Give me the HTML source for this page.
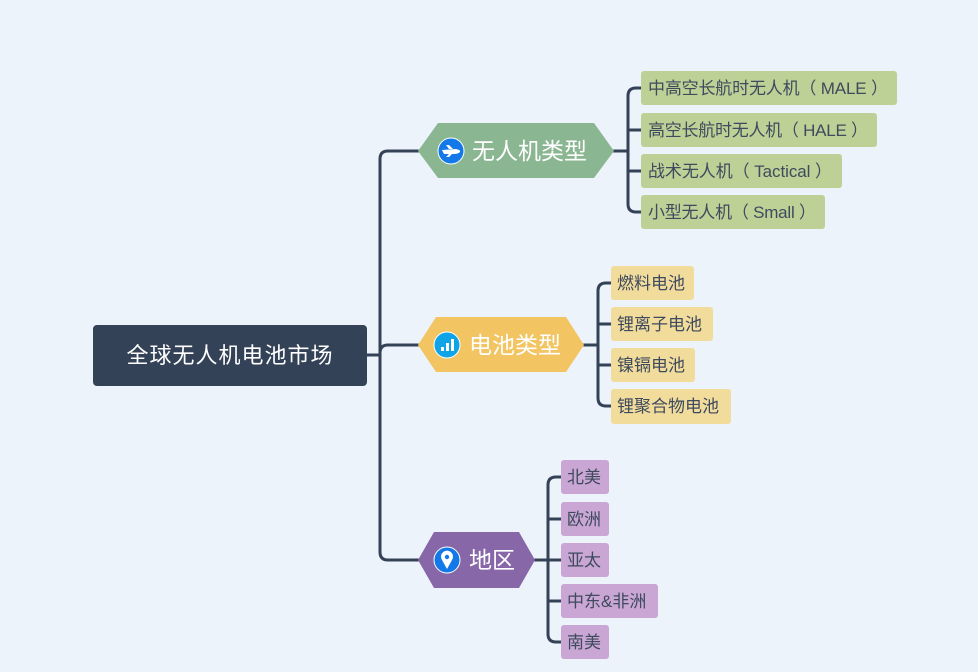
<!DOCTYPE html>
<html><head><meta charset="utf-8"><style>
html,body{margin:0;padding:0;background:#ecf3fa;}
svg{display:block;}
text{font-family:"Liberation Sans","Noto Sans CJK SC",sans-serif;}
.lf{font-size:17px;fill:#3e4a5d;}
.br{font-size:23px;fill:#fff;}
</style></head><body>
<svg width="978" height="672" viewBox="0 0 978 672" xmlns="http://www.w3.org/2000/svg">
<rect width="978" height="672" fill="#ecf3fa"/>
<g fill="none" stroke="#344258" stroke-width="3" stroke-linecap="round">
  <path d="M367 355 H380"/>
  <path d="M418 151 H388 Q380 151 380 159 V552 Q380 560 388 560 H418"/>
  <path d="M380 353 Q380 345 388 345 H418"/>
  <path d="M614 151 H628"/>
  <path d="M641 88 H636 Q628 88 628 96 V204 Q628 212 636 212 H641"/>
  <path d="M628 130 H641 M628 171 H641"/>
  <path d="M584 345 H598"/>
  <path d="M611 283 H606 Q598 283 598 291 V398 Q598 406 606 406 H611"/>
  <path d="M598 324 H611 M598 365 H611"/>
  <path d="M535 560 H548"/>
  <path d="M561 477 H556 Q548 477 548 485 V634 Q548 642 556 642 H561"/>
  <path d="M548 519 H561 M548 560 H561 M548 601 H561"/>
</g>
<rect x="93" y="325" width="274" height="61" rx="4" fill="#344258"/>
<text x="230" y="363" text-anchor="middle" font-size="22" letter-spacing="1" fill="#fff">全球无人机电池市场</text>

<polygon points="418,151 438,123 594,123 614,151 594,178 438,178" fill="#8bb692"/>
<circle cx="451" cy="151" r="13" fill="#1479e8" stroke="#fff" stroke-width="1"/>
<path d="M442 150 L456 149 Q461 150 460 152 Q458 154 454 154 L444 154 Z M449 149 L446 145 L449 145 L453 149 Z M449 154 L446 157 L449 157 L452 154 Z" fill="#fff"/>
<text x="472" y="159" class="br">无人机类型</text>

<polygon points="418,345 436,317 566,317 584,345 566,372 436,372" fill="#f2c462"/>
<circle cx="447" cy="345" r="13" fill="#0fa3e8" stroke="#fff" stroke-width="1"/>
<rect x="441" y="347" width="3" height="4" fill="#fff"/><rect x="446" y="343" width="3" height="8" fill="#fff"/><rect x="451" y="339" width="3" height="12" fill="#fff"/>
<text x="469" y="353" class="br">电池类型</text>

<polygon points="418,560 434,532 519,532 535,560 519,588 434,588" fill="#8867a8"/>
<circle cx="447" cy="560" r="13" fill="#1479e8" stroke="#fff" stroke-width="1"/>
<path d="M447 569 L442 560 A6 6 0 1 1 452 560 Z" fill="#fff"/><circle cx="447" cy="557" r="2.2" fill="#1479e8"/>
<text x="469" y="568" class="br">地区</text>

<g fill="#bdd196">
<rect x="641" y="71" width="256" height="34" rx="3"/>
<rect x="641" y="113" width="236" height="34" rx="3"/>
<rect x="641" y="154" width="201" height="34" rx="3"/>
<rect x="641" y="195" width="184" height="34" rx="3"/>
</g>
<text x="648" y="94" class="lf" textLength="240">中高空长航时无人机（ MALE ）</text>
<text x="648" y="136" class="lf" textLength="220">高空长航时无人机（ HALE ）</text>
<text x="648" y="177" class="lf" textLength="184">战术无人机（ Tactical ）</text>
<text x="648" y="218" class="lf" textLength="168">小型无人机（ Small ）</text>

<g fill="#f2dc9c">
<rect x="611" y="266" width="83" height="34" rx="3"/>
<rect x="611" y="307" width="102" height="34" rx="3"/>
<rect x="611" y="348" width="84" height="34" rx="3"/>
<rect x="611" y="389" width="120" height="35" rx="3"/>
</g>
<text x="617" y="289" class="lf">燃料电池</text>
<text x="617" y="330" class="lf">锂离子电池</text>
<text x="617" y="371" class="lf">镍镉电池</text>
<text x="617" y="412" class="lf">锂聚合物电池</text>

<g fill="#c9a6d4">
<rect x="561" y="460" width="48" height="34" rx="3"/>
<rect x="561" y="502" width="48" height="34" rx="3"/>
<rect x="561" y="543" width="48" height="34" rx="3"/>
<rect x="561" y="584" width="97" height="34" rx="3"/>
<rect x="561" y="625" width="48" height="34" rx="3"/>
</g>
<text x="567" y="483" class="lf">北美</text>
<text x="567" y="525" class="lf">欧洲</text>
<text x="567" y="566" class="lf">亚太</text>
<text x="567" y="607" class="lf">中东&amp;非洲</text>
<text x="567" y="648" class="lf">南美</text>
</svg>
</body></html>
